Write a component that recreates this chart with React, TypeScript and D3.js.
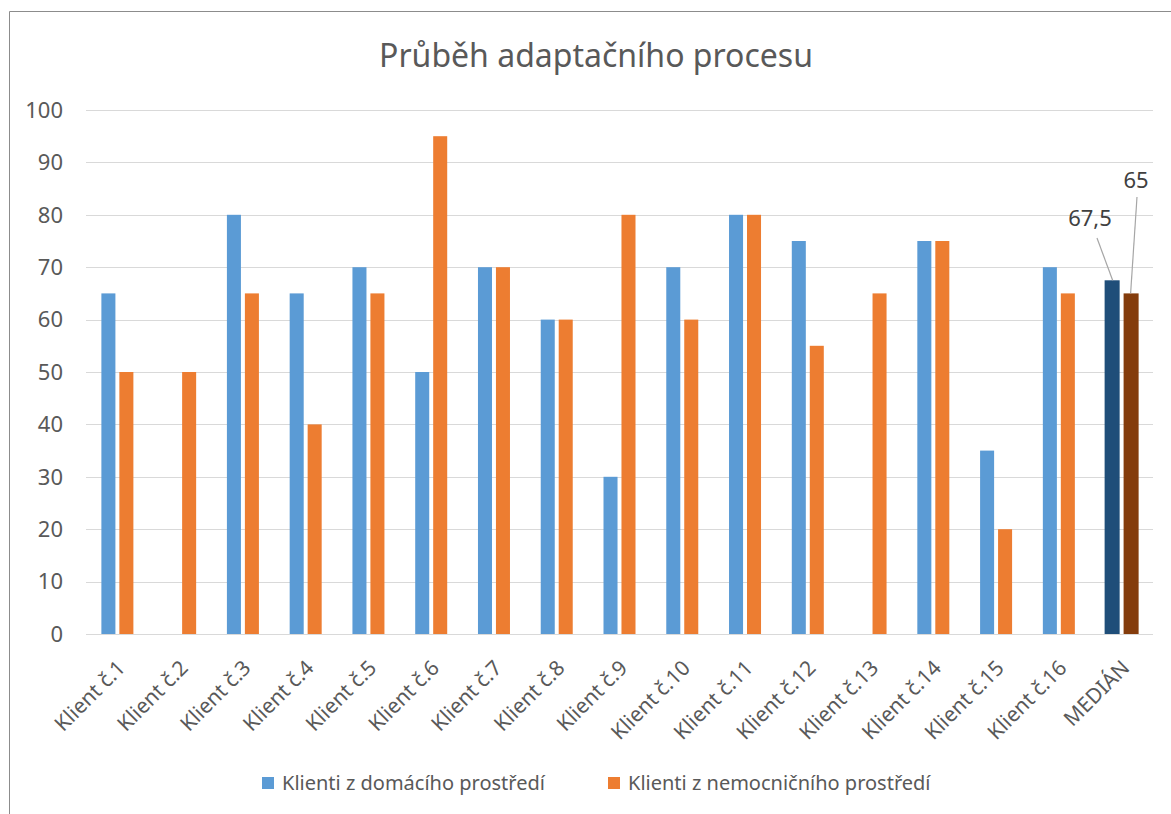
import React, { useEffect, useRef } from "react";
import * as d3 from "d3";

const categories = [
  "Klient č.1", "Klient č.2", "Klient č.3", "Klient č.4", "Klient č.5", "Klient č.6",
  "Klient č.7", "Klient č.8", "Klient č.9", "Klient č.10", "Klient č.11", "Klient č.12",
  "Klient č.13", "Klient č.14", "Klient č.15", "Klient č.16", "MEDIÁN",
];
const domaci = [65, 0, 80, 65, 70, 50, 70, 60, 30, 70, 80, 75, 0, 75, 35, 70, 67.5];
const nemocnicni = [50, 50, 65, 40, 65, 95, 70, 60, 80, 60, 80, 55, 65, 75, 20, 65, 65];
const seriesNames = ["Klienti z domácího prostředí", "Klienti z nemocničního prostředí"];
const yTicks = [0, 10, 20, 30, 40, 50, 60, 70, 80, 90, 100];
const title = "Průběh adaptačního procesu";

const W = 1171;
const H = 814;
const FONT = "'Noto Sans', sans-serif";
const TXT = "#595959";

export default function App() {
  const ref = useRef<SVGSVGElement>(null);
  useEffect(() => {
    const svg = d3.select(ref.current);
    svg.selectAll("*").remove();

    // frame
    svg.append("path").attr("d", `M9.5,${H}V11.5H${W}`).attr("fill", "none").attr("stroke", "#8c8c8c").attr("stroke-width", 1);

    svg.append("text").attr("x", 596).attr("y", 67).attr("text-anchor", "middle")
      .attr("font-family", FONT).attr("font-size", 32).attr("fill", TXT).text(title);

    const x = d3.scaleBand<string>().domain(categories).range([86, 1153]).padding(0);
    const y = d3.scaleLinear().domain([0, 100]).range([634, 110]);
    const x1 = d3.scaleBand<string>().domain(["a", "b"]).range([-16, 16]).paddingInner(0.22);

    const g = svg.append("g");
    g.selectAll("line.grid").data(yTicks).enter().append("line")
      .attr("x1", 86).attr("x2", 1153)
      .attr("y1", (d) => Math.round(y(d)) + 0.5).attr("y2", (d) => Math.round(y(d)) + 0.5)
      .attr("stroke", "#d9d9d9").attr("stroke-width", 1);

    g.selectAll("text.ytick").data(yTicks).enter().append("text")
      .attr("x", 63).attr("y", (d) => y(d)).attr("dy", "0.35em").attr("text-anchor", "end")
      .attr("font-family", FONT).attr("font-size", 22).attr("fill", TXT).text((d) => d);

    const n = categories.length;
    const colorsA = (i: number) => (i === n - 1 ? "#1f4e79" : "#5b9bd5");
    const colorsB = (i: number) => (i === n - 1 ? "#843c0c" : "#ed7d31");

    categories.forEach((c, i) => {
      const cx = (x(c) as number) + x.bandwidth() / 2;
      const vals = [domaci[i], nemocnicni[i]];
      ["a", "b"].forEach((k, j) => {
        const v = vals[j];
        if (!v) return;
        const wExtra = i === n - 1 ? 1 : 0;
        g.append("rect")
          .attr("x", cx + (x1(k) as number) - (j === 0 ? wExtra : 0))
          .attr("y", y(v))
          .attr("width", x1.bandwidth() + wExtra)
          .attr("height", y(0) - y(v))
          .attr("fill", j === 0 ? colorsA(i) : colorsB(i));
      });
      g.append("text")
        .attr("transform", `translate(${cx + 4},${664}) rotate(-45)`)
        .attr("text-anchor", "end").attr("dy", "0.35em")
        .attr("font-family", FONT).attr("font-size", 21).attr("fill", TXT).text(c);
    });

    // median data labels with leader lines
    const mi = n - 1;
    const mcx = (x(categories[mi]) as number) + x.bandwidth() / 2;
    const labels = [
      { v: domaci[mi], bx: mcx + (x1("a") as number) + x1.bandwidth() / 2, tx: 1090, ty: 226, lx: 1097, ly: 238 },
      { v: nemocnicni[mi], bx: mcx + (x1("b") as number) + x1.bandwidth() / 2, tx: 1136, ty: 188, lx: 1137, ly: 197 },
    ];
    labels.forEach((l) => {
      g.append("line").attr("x1", l.lx).attr("y1", l.ly).attr("x2", l.bx).attr("y2", y(l.v))
        .attr("stroke", "#a6a6a6").attr("stroke-width", 1.2);
      g.append("text").attr("x", l.tx).attr("y", l.ty).attr("text-anchor", "middle")
        .attr("font-family", FONT).attr("font-size", 22).attr("fill", "#404040")
        .text(String(l.v).replace(".", ","));
    });

    // legend
    const legend = [
      { name: seriesNames[0], color: "#5b9bd5", x: 262 },
      { name: seriesNames[1], color: "#ed7d31", x: 608 },
    ];
    legend.forEach((l) => {
      svg.append("rect").attr("x", l.x).attr("y", 777).attr("width", 12).attr("height", 12).attr("fill", l.color);
      svg.append("text").attr("x", l.x + 20).attr("y", 783).attr("dy", "0.35em")
        .attr("font-family", FONT).attr("font-size", 20).attr("fill", TXT).text(l.name);
    });
  }, []);
  return (
    <svg ref={ref} width={W} height={H} style={{ position: "absolute", left: 0, top: 0, background: "#fff" }} />
  );
}
